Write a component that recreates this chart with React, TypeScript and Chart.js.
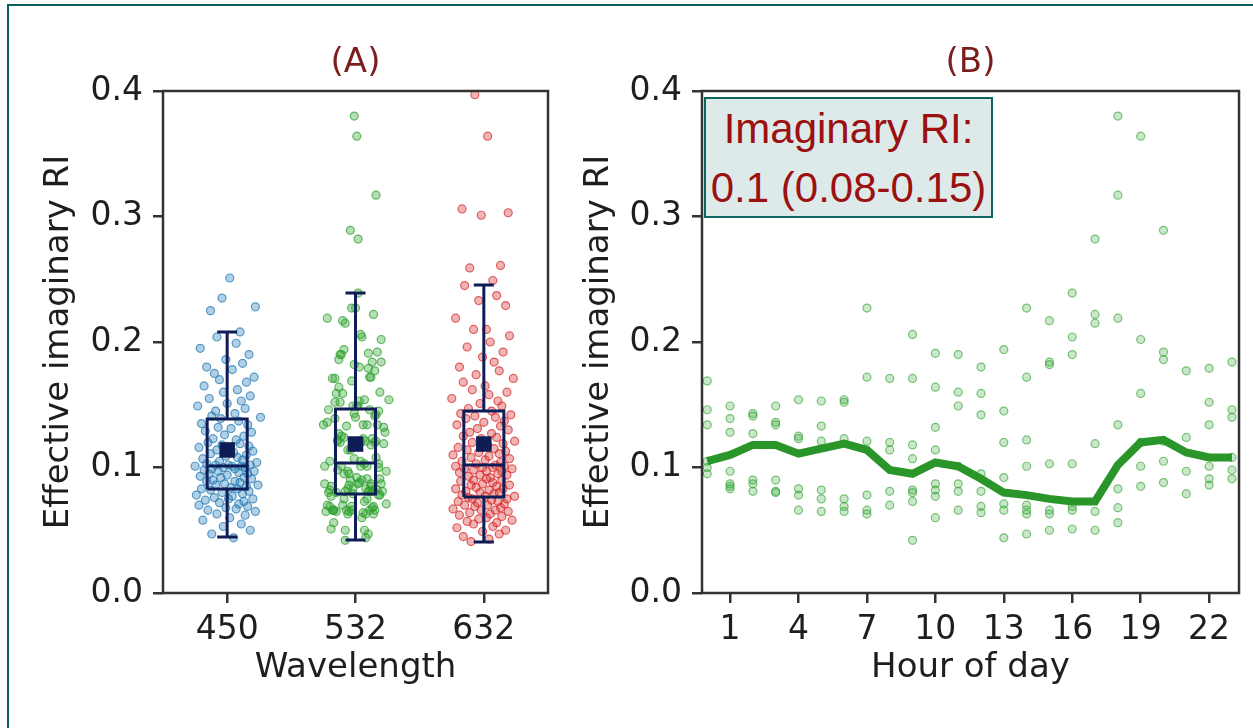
import React, { useEffect, useRef } from 'react';
import { Chart, registerables } from 'chart.js';

Chart.register(...registerables);

// ---------- data ----------
const wavelengths = ['450', '532', '632'];
const yTicks = [0, 0.1, 0.2, 0.3, 0.4];
const hourTicks = [1, 4, 7, 10, 13, 16, 19, 22];
const hours = [0, 1, 2, 3, 4, 5, 6, 7, 8, 9, 10, 11, 12, 13, 14, 15, 16, 17, 18, 19, 20, 21, 22, 23];

const values450 = [
  0.044, 0.047, 0.050, 0.053, 0.055, 0.058, 0.060, 0.062, 0.063, 0.065, 0.066, 0.067,
  0.068, 0.069, 0.070, 0.071, 0.072, 0.073, 0.074, 0.075, 0.075, 0.076, 0.077, 0.078, 0.079, 0.080, 0.081, 0.082, 0.083, 0.083,
  0.084, 0.085, 0.086, 0.086, 0.087, 0.088, 0.089, 0.089, 0.090, 0.091, 0.092, 0.092, 0.093, 0.094, 0.095, 0.095, 0.096, 0.097, 0.097, 0.098, 0.099, 0.099, 0.100, 0.100, 0.101, 0.101, 0.101, 0.102, 0.102, 0.102,
  0.103, 0.104, 0.105, 0.106, 0.107, 0.108, 0.109, 0.110, 0.111, 0.112, 0.113, 0.114, 0.115, 0.116, 0.117, 0.118, 0.119, 0.120, 0.122, 0.123, 0.125, 0.126, 0.128, 0.129, 0.131, 0.132, 0.134, 0.135, 0.137, 0.139,
  0.140, 0.141, 0.143, 0.145, 0.147, 0.149, 0.151, 0.153, 0.155, 0.157, 0.160, 0.162, 0.165, 0.168, 0.170, 0.172, 0.175, 0.178, 0.180, 0.183, 0.186, 0.190, 0.195, 0.199, 0.204, 0.208, 0.225, 0.228, 0.235, 0.251,
];

// 532 nm values grouped by hour of day (panel B)
const hourlyValues = [
  [0.169, 0.146, 0.134, 0.105, 0.100, 0.095],
  [0.149, 0.139, 0.128, 0.097, 0.087, 0.085, 0.083],
  [0.143, 0.141, 0.127, 0.090, 0.087, 0.081],
  [0.149, 0.136, 0.134, 0.090, 0.081, 0.080],
  [0.154, 0.125, 0.123, 0.083, 0.078, 0.066],
  [0.153, 0.133, 0.121, 0.082, 0.075, 0.065],
  [0.154, 0.152, 0.123, 0.075, 0.069, 0.065],
  [0.227, 0.172, 0.121, 0.078, 0.066, 0.063],
  [0.171, 0.120, 0.114, 0.081, 0.070],
  [0.206, 0.171, 0.118, 0.107, 0.082, 0.080, 0.073, 0.042],
  [0.191, 0.164, 0.132, 0.114, 0.087, 0.082, 0.077, 0.060],
  [0.190, 0.160, 0.149, 0.101, 0.087, 0.081, 0.066],
  [0.180, 0.159, 0.142, 0.095, 0.081, 0.069, 0.064],
  [0.194, 0.145, 0.120, 0.092, 0.071, 0.066, 0.044],
  [0.227, 0.172, 0.122, 0.101, 0.070, 0.066, 0.063, 0.047],
  [0.217, 0.184, 0.182, 0.103, 0.066, 0.063, 0.050],
  [0.239, 0.204, 0.190, 0.103, 0.069, 0.066, 0.051],
  [0.282, 0.222, 0.215, 0.119, 0.065, 0.050],
  [0.380, 0.317, 0.219, 0.134, 0.083, 0.068, 0.056],
  [0.364, 0.202, 0.159, 0.120, 0.101, 0.085],
  [0.289, 0.192, 0.186, 0.121, 0.105, 0.088],
  [0.177, 0.124, 0.097, 0.079],
  [0.179, 0.152, 0.134, 0.101, 0.091, 0.086],
  [0.184, 0.146, 0.140, 0.108, 0.098, 0.091],
];
const values532 = hourlyValues.flat();

const values632 = [
  0.041, 0.043, 0.045, 0.047, 0.049, 0.050, 0.052, 0.053, 0.055, 0.056, 0.057, 0.058, 0.059, 0.060, 0.061, 0.062, 0.063, 0.064, 0.065, 0.066, 0.066, 0.067, 0.068, 0.069, 0.070, 0.070, 0.071, 0.072, 0.073, 0.073, 0.074, 0.075, 0.075, 0.076, 0.077,
  0.077, 0.078, 0.079, 0.080, 0.080, 0.081, 0.082, 0.083, 0.083, 0.084, 0.085, 0.086, 0.086, 0.087, 0.088, 0.089, 0.090, 0.090, 0.091, 0.092, 0.093, 0.094, 0.094, 0.095, 0.096, 0.097, 0.097, 0.098, 0.099, 0.099, 0.100, 0.100, 0.101, 0.101, 0.102,
  0.103, 0.104, 0.105, 0.106, 0.107, 0.108, 0.109, 0.110, 0.111, 0.112, 0.113, 0.114, 0.115, 0.116, 0.118, 0.119, 0.120, 0.121, 0.123, 0.124, 0.125, 0.127, 0.128, 0.130, 0.131, 0.133, 0.134, 0.136, 0.137, 0.139, 0.140, 0.141, 0.142, 0.143, 0.145,
  0.147, 0.149, 0.151, 0.153, 0.155, 0.158, 0.160, 0.162, 0.165, 0.168, 0.171, 0.174, 0.177, 0.180, 0.184, 0.188, 0.192, 0.196, 0.200, 0.205, 0.210, 0.210, 0.219, 0.229, 0.233, 0.237, 0.245, 0.249, 0.259, 0.261, 0.301, 0.303, 0.306, 0.364, 0.397,
];

// horizontal strip-plot jitter, in category units
const jitter = [
  0.05, -0.12, 0.18, -0.03, 0.11, -0.19, 0.02, 0.14, -0.08, 0.22,
  -0.15, 0.07, -0.01, 0.16, -0.22, 0.09, -0.06, 0.13, -0.17, 0.01,
  0.20, -0.10, 0.04, -0.24, 0.12, -0.04, 0.17, -0.13, 0.08, -0.20,
  0.03, 0.15, -0.09, 0.24, -0.02, 0.10, -0.16, 0.06, -0.11, 0.19,
  -0.05, 0.13, -0.21, 0.00, 0.16, -0.14, 0.09, -0.07, 0.21, -0.18,
  0.06, -0.12, 0.14, -0.03, 0.11, -0.25, 0.04, 0.18, -0.09, 0.01,
  -0.16, 0.23, -0.06, 0.12, -0.19, 0.08, -0.01, 0.15, -0.13, 0.05,
  0.20, -0.08, 0.02, -0.22, 0.17, -0.04, 0.10, -0.15, 0.07, -0.11,
  0.13, -0.02, 0.19, -0.17, 0.03, -0.07, 0.16, -0.20, 0.09, -0.05,
  0.26, -0.12, 0.06, -0.09, 0.14, -0.23, 0.00, 0.11, -0.14, 0.18,
  -0.03, 0.08, -0.18, 0.15, -0.06, 0.21, -0.10, 0.04, -0.16, 0.12,
  -0.01, 0.17, -0.21, 0.07, -0.08, 0.10, -0.13, 0.22, -0.04, 0.02,
  0.14, -0.19, 0.05, -0.11, 0.19, -0.02, 0.09, -0.24, 0.13, -0.07,
  0.03, -0.15, 0.16, -0.05, 0.11, -0.20, 0.06, -0.09, 0.18, -0.12,
  0.01, 0.24, -0.17, 0.08, -0.03, 0.12, -0.14, 0.04, -0.22, 0.15,
  -0.06, 0.10, -0.10, 0.20, -0.01, 0.07, -0.18, 0.14, -0.08, 0.02,
];

// box-plot statistics per wavelength
const whiskerLow = [0.0446, 0.0422, 0.0406];
const q1 = [0.0829, 0.0789, 0.0765];
const median = [0.1012, 0.1036, 0.1020];
const q3 = [0.1386, 0.1466, 0.1450];
const whiskerHigh = [0.208, 0.239, 0.2454];
const means = [0.114, 0.1187, 0.1187];

// hourly median line (panel B)
const hourlyMedian = [
  0.105, 0.110, 0.118, 0.118, 0.111, 0.115, 0.119, 0.114, 0.098, 0.095, 0.104, 0.101,
  0.091, 0.080, 0.078, 0.075, 0.073, 0.073, 0.102, 0.120, 0.122, 0.112, 0.108, 0.108,
];

// ---------- styling ----------
const FONT = 'DejaVu Sans';
const TEXT = '#1e1e1e';
const AXIS = '#333333';
const NAVY = '#0e1d55';
const TITLE_RED = '#7a1e1e';
const BOX_HALF = 0.156;
const CAP_HALF = 0.078;

const framePlugin = {
  id: 'frame',
  afterDatasetsDraw(chart: any) {
    const { ctx, chartArea: a } = chart;
    ctx.save();
    ctx.strokeStyle = AXIS;
    ctx.lineWidth = 2.5;
    ctx.strokeRect(a.left, a.top, a.right - a.left, a.bottom - a.top);
    ctx.restore();
  },
};

function gridOpts() {
  return { drawOnChartArea: false, drawTicks: true, tickLength: 10, color: AXIS, lineWidth: 2.5 };
}

function yScale(width: number, titlePad: number) {
  return {
    type: 'linear',
    min: 0,
    max: 0.4,
    afterBuildTicks: (s: any) => { s.ticks = yTicks.map((v) => ({ value: v })); },
    afterFit: (s: any) => { s.width = width; },
    ticks: { callback: (v: any) => Number(v).toFixed(1), font: { family: FONT, size: 33 }, color: TEXT, padding: 10 },
    grid: gridOpts(),
    border: { display: false },
    title: { display: true, text: 'Effective imaginary RI', color: TEXT, font: { family: FONT, size: 34 }, padding: { top: titlePad, bottom: 0 } },
  };
}

function titleOpts(text: string) {
  return {
    display: true,
    text,
    color: TITLE_RED,
    font: { family: FONT, size: 34, weight: 'normal' },
    padding: { top: 42.6, bottom: 7.6 },
    fullSize: false,
  };
}

function boxSegments(i: number) {
  const gap = { x: i, y: null };
  return [
    { x: i - BOX_HALF, y: q1[i] }, { x: i + BOX_HALF, y: q1[i] }, { x: i + BOX_HALF, y: q3[i] }, { x: i - BOX_HALF, y: q3[i] }, { x: i - BOX_HALF, y: q1[i] }, gap,
    { x: i - BOX_HALF, y: median[i] }, { x: i + BOX_HALF, y: median[i] }, gap,
    { x: i, y: q3[i] }, { x: i, y: whiskerHigh[i] }, gap,
    { x: i - CAP_HALF, y: whiskerHigh[i] }, { x: i + CAP_HALF, y: whiskerHigh[i] }, gap,
    { x: i, y: q1[i] }, { x: i, y: whiskerLow[i] }, gap,
    { x: i - CAP_HALF, y: whiskerLow[i] }, { x: i + CAP_HALF, y: whiskerLow[i] },
  ];
}

function strip(vals: number[], i: number, k0: number) {
  return vals.map((v, k) => ({ x: i + jitter[(k + k0) % jitter.length], y: v }));
}

const stripColors = [
  ['rgba(31,119,180,0.35)', 'rgba(31,119,180,0.7)'],
  ['rgba(44,160,44,0.35)', 'rgba(44,160,44,0.7)'],
  ['rgba(214,39,40,0.35)', 'rgba(214,39,40,0.7)'],
];

export default function App() {
  const refA = useRef<HTMLCanvasElement>(null);
  const refB = useRef<HTMLCanvasElement>(null);

  useEffect(() => {
    const groups = [values450, values532, values632];
    const datasetsA: any[] = [];
    wavelengths.forEach((_, i) => {
      datasetsA.push({
        type: 'line',
        data: boxSegments(i),
        borderColor: NAVY,
        borderWidth: 3,
        pointRadius: 0,
        spanGaps: false,
        fill: false,
        order: 0,
      });
    });
    datasetsA.push({
      type: 'scatter',
      data: means.map((m, i) => ({ x: i, y: m })),
      pointStyle: 'rect',
      pointRadius: 11,
      backgroundColor: NAVY,
      borderColor: NAVY,
      borderWidth: 0,
      order: 0,
    });
    groups.forEach((vals, i) => {
      datasetsA.push({
        type: 'scatter',
        data: strip(vals, i, i * 53),
        pointRadius: 4,
        borderWidth: 1.2,
        backgroundColor: stripColors[i][0],
        borderColor: stripColors[i][1],
        order: 1,
      });
    });

    const chartA = new Chart(refA.current as HTMLCanvasElement, {
      type: 'scatter',
      data: { datasets: datasetsA },
      plugins: [framePlugin],
      options: {
        responsive: false,
        animation: false,
        events: [],
        layout: { padding: { left: 0, top: 0, right: 12, bottom: 35 } },
        plugins: {
          legend: { display: false },
          tooltip: { enabled: false },
          title: titleOpts('(A)'),
        },
        scales: {
          x: {
            type: 'linear',
            min: -0.5,
            max: 2.5,
            afterBuildTicks: (s: any) => { s.ticks = wavelengths.map((_, i) => ({ value: i })); },
            afterFit: (s: any) => { s.height = 100; },
            ticks: { callback: (v: any) => wavelengths[v] ?? '', font: { family: FONT, size: 33 }, color: TEXT, padding: 8, maxRotation: 0, autoSkip: false },
            grid: gridOpts(),
            border: { display: false },
            title: { display: true, text: 'Wavelength', color: TEXT, font: { family: FONT, size: 34 }, padding: { top: 0, bottom: 4 } },
          },
          y: yScale(163, 38.6),
        },
      } as any,
    } as any);

    const pointsB = hourlyValues.flatMap((vals, h) => vals.map((v) => ({ x: hours[h], y: v })));
    const chartB = new Chart(refB.current as HTMLCanvasElement, {
      type: 'scatter',
      data: {
        datasets: [
          {
            type: 'line',
            data: hours.map((h, i) => ({ x: h, y: hourlyMedian[i] })),
            borderColor: '#2a962a',
            borderWidth: 8,
            pointRadius: 0,
            tension: 0,
            fill: false,
            order: 0,
          },
          {
            type: 'scatter',
            data: pointsB,
            pointRadius: 4,
            borderWidth: 1.2,
            backgroundColor: 'rgba(44,160,44,0.25)',
            borderColor: 'rgba(44,160,44,0.6)',
            order: 1,
          },
        ],
      },
      plugins: [framePlugin],
      options: {
        responsive: false,
        animation: false,
        events: [],
        layout: { padding: { left: 0, top: 0, right: 14, bottom: 35 } },
        plugins: {
          legend: { display: false },
          tooltip: { enabled: false },
          title: titleOpts('(B)'),
        },
        scales: {
          x: {
            type: 'linear',
            min: -0.23,
            max: 23.31,
            afterBuildTicks: (s: any) => { s.ticks = hourTicks.map((v) => ({ value: v })); },
            afterFit: (s: any) => { s.height = 100; },
            ticks: { callback: (v: any) => String(v), font: { family: FONT, size: 33 }, color: TEXT, padding: 8, maxRotation: 0, autoSkip: false },
            grid: gridOpts(),
            border: { display: false },
            title: { display: true, text: 'Hour of day', color: TEXT, font: { family: FONT, size: 34 }, padding: { top: 0, bottom: 4 } },
          },
          y: yScale(142, 19),
        },
      } as any,
    } as any);

    return () => {
      chartA.destroy();
      chartB.destroy();
    };
  }, []);

  return (
    <div style={{ position: 'absolute', left: 0, top: 0, width: 1253, height: 728, overflow: 'hidden', background: '#ffffff' }}>
      <div
        style={{
          position: 'absolute', left: 7, top: 4, width: 1300, height: 800,
          borderLeft: '2px solid #0b5f5a', borderTop: '2px solid #0b5f5a',
        }}
      />
      <canvas ref={refA} width={560} height={728} style={{ position: 'absolute', left: 0, top: 0 }} />
      <canvas ref={refB} width={693} height={728} style={{ position: 'absolute', left: 560, top: 0 }} />
      <div
        style={{
          position: 'absolute', left: 704, top: 97, width: 289, height: 121, boxSizing: 'border-box',
          border: '2px solid #0e6660', background: '#deeaea', color: '#9b1010',
          fontFamily: '"Liberation Sans", Arial, sans-serif', fontSize: 42, lineHeight: '59px',
          textAlign: 'center', whiteSpace: 'nowrap',
        }}
      >
        Imaginary RI:
        <br />
        0.1 (0.08-0.15)
      </div>
    </div>
  );
}
